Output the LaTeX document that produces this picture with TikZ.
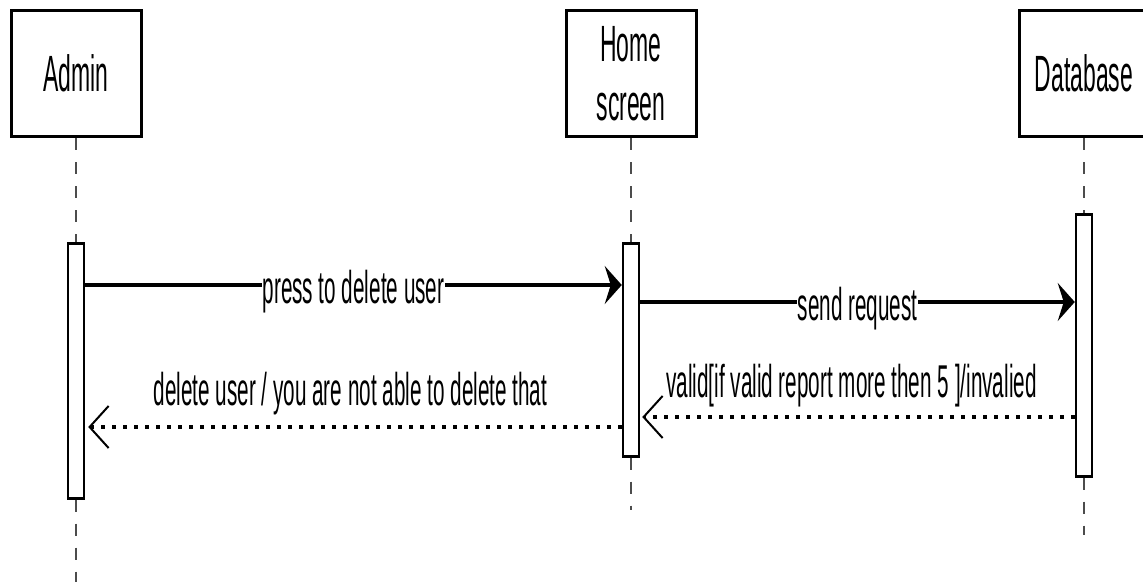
\documentclass[tikz,border=0pt]{standalone}
\usepackage{fontspec}
\setmainfont{Liberation Sans}
\newfontfamily\cf[FakeStretch=0.45]{Liberation Sans}
\usetikzlibrary{arrows.meta}
\begin{document}
\begin{tikzpicture}[x=1pt,y=-1pt,
  actor/.style={draw, line width=3pt, minimum width=130pt, minimum height=126pt, inner sep=0pt, align=center, font=\cf\fontsize{51}{59}\selectfont},
  act/.style={draw, fill=white, line width=2.5pt, minimum width=16pt, inner sep=0pt, anchor=north},
  life/.style={line width=1.5pt, black!70, dash pattern=on 12pt off 12pt},
  msg/.style={line width=4pt, -{Stealth[length=17pt,width=38pt,inset=6pt]}},
  ret/.style={line width=3.5pt, dash pattern=on 4pt off 7pt, -{Straight Barb[length=19pt,width=42pt,line width=2pt]}},
  lab/.style={font=\cf\fontsize{46}{50}\selectfont, inner sep=1pt}]
\useasboundingbox (0,0) rectangle (1143,581);
\fill[white] (0,0) rectangle (1143,581);
% actors
\node[actor] (admin) at (76,73.5) {Admin};
\node[actor] (home) at (631,73.5) {Home\\screen};
\node[actor] (db) at (1084,73.5) {Database};
% activations
\node[act, minimum height=255pt] (aAct) at (76,242) {};
\node[act, minimum height=213pt] (hAct) at (631,242) {};
\node[act, minimum height=262pt] (dAct) at (1084,213) {};
% lifeline ends
\coordinate (aEnd) at (76,590);
\coordinate (hEnd) at (631,510);
\coordinate (dEnd) at (1084,535);
\draw[life] (admin.south) -- (aAct.north);
\draw[life] (aAct.south) -- (aEnd);
\draw[life] (home.south) -- (hAct.north);
\draw[life] (hAct.south) -- (hEnd);
\draw[life] (db.south) -- (dAct.north);
\draw[life] (dAct.south) -- (dEnd);
% message levels
\coordinate (y1) at (0,285);
\coordinate (y2) at (0,302);
\coordinate (y3) at (0,417);
\coordinate (y4) at (0,427);
\draw[msg] (aAct.east |- y1) -- node[lab, fill=white, anchor=base, yshift=-18pt] {press to delete user} (hAct.west |- y1);
\draw[msg] (hAct.east |- y2) -- node[lab, fill=white, anchor=base, yshift=-18pt] {send request} (dAct.west |- y2);
\draw[ret, shorten >=2pt] (dAct.west |- y3) -- node[lab, anchor=base, yshift=20pt, xshift=-6pt] {valid[if valid report more then 5 ]/invalied} (hAct.east |- y3);
\draw[ret, shorten >=3pt] (hAct.west |- y4) -- node[lab, anchor=base, yshift=22pt, xshift=-3pt] {delete user / you are not able to delete that} (aAct.east |- y4);
\end{tikzpicture}
\end{document}
